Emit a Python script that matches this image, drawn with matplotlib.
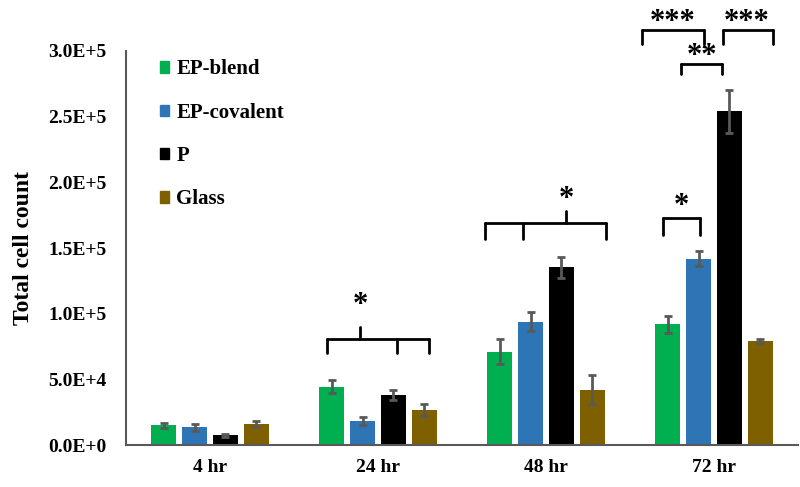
import matplotlib.pyplot as plt
import numpy as np
from matplotlib.patches import Patch

plt.rcParams['font.family'] = ['Liberation Serif', 'DejaVu Serif']
plt.rcParams['font.weight'] = 'bold'

times = ['4 hr', '24 hr', '48 hr', '72 hr']
series_names = ['EP-blend', 'EP-covalent', 'P', 'Glass']

ep_blend = [15000, 44500, 71000, 92000]
ep_blend_err = [2000, 5000, 9500, 6500]
ep_covalent = [13500, 18500, 94000, 142000]
ep_covalent_err = [2500, 3000, 7500, 5500]
p_only = [7500, 38000, 135500, 254000]
p_only_err = [1200, 3800, 8000, 16500]
glass = [16000, 26500, 42000, 79000]
glass_err = [2500, 4500, 11000, 1500]

colors = ['#00B050', '#2E75B6', '#000000', '#7F6000']

# significance brackets: x range, bar height, ticks (x, end y), label and its spot
brackets = [
    (0.696, 1.304, 80700, [(0.696, 70000), (0.893, 90000), (1.113, 70000), (1.304, 70000)], '*', 0.893, 106000),
    (1.637, 2.357, 169000, [(1.637, 157000), (1.863, 157000), (2.119, 178000), (2.357, 157000)], '*', 2.119, 187000),
    (2.696, 2.917, 173000, [(2.696, 160000), (2.917, 160000)], '*', 2.804, 181500),
    (2.804, 3.048, 290000, [(2.804, 282500), (3.048, 282500)], '**', 2.929, 296000),
    (2.571, 2.940, 316000, [(2.571, 305000), (2.940, 305000)], '***', 2.756, 322000),
    (3.054, 3.351, 316000, [(3.054, 305000), (3.351, 305000)], '***', 3.196, 322000),
]

fig = plt.figure(figsize=(8, 4.87), dpi=100)
ax = fig.add_axes([0.1575, 0.0862, 0.84, 0.8091])

x = np.arange(len(times))
step = 0.1845
width = 0.143
values = [ep_blend, ep_covalent, p_only, glass]
errors = [ep_blend_err, ep_covalent_err, p_only_err, glass_err]
for i, (vals, errs) in enumerate(zip(values, errors)):
    ax.bar(x + (i - 1.5) * step, vals, width, color=colors[i],
           yerr=errs, ecolor='#595959',
           error_kw=dict(elinewidth=2, capsize=3, capthick=2))

for x0, x1, yb, ticks, label, lx, ly in brackets:
    ax.plot([x0, x1], [yb, yb], color='black', lw=2, clip_on=False,
            solid_capstyle='round')
    for tx, ty in ticks:
        ax.plot([tx, tx], [yb, ty], color='black', lw=2, clip_on=False,
                solid_capstyle='round')
    ax.text(lx, ly, label, ha='center', va='center', fontsize=22,
            fontweight='bold', clip_on=False)

ax.set_xlim(-0.5, 3.5)
ax.set_ylim(0, 300000)
ax.set_yticks(np.arange(0, 300001, 50000))
ax.set_yticklabels(['0.0E+0', '5.0E+4', '1.0E+5', '1.5E+5', '2.0E+5', '2.5E+5', '3.0E+5'])
ax.set_xticks(x)
ax.set_xticklabels(times)
ax.tick_params(axis='both', length=0, labelsize=14, pad=10)
ax.tick_params(axis='y', pad=14)
ax.set_ylabel('Total cell count', fontsize=17, fontweight='bold', labelpad=10)

for s in ['top', 'right']:
    ax.spines[s].set_visible(False)
for s in ['left', 'bottom']:
    ax.spines[s].set_color('#595959')
    ax.spines[s].set_linewidth(1.5)

handles = [Patch(color=c) for c in colors]
ax.legend(handles, series_names, loc='upper left', bbox_to_anchor=(0.022, 1.026),
          frameon=False, fontsize=15, handlelength=0.45, handleheight=0.45,
          handletextpad=0.35, labelspacing=1.12)

fig.savefig('out.png', dpi=100)
